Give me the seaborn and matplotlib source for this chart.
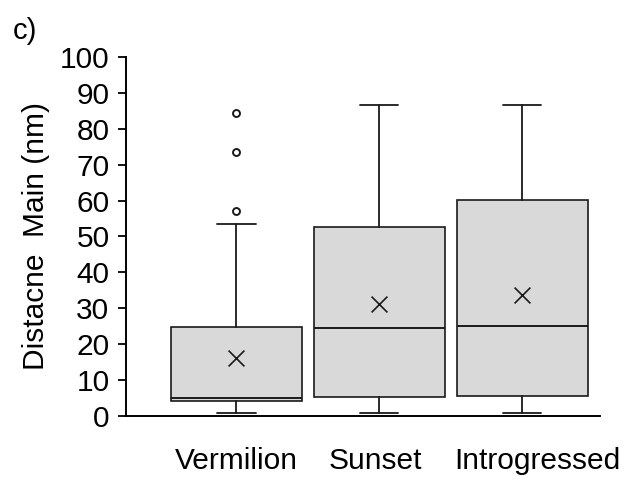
import matplotlib
matplotlib.use("Agg")
import matplotlib.pyplot as plt
import matplotlib.transforms as mtransforms
import seaborn as sns
import pandas as pd

# Summary statistics per group (nm)
groups = ["Vermilion", "Sunset", "Introgressed"]
whisker_low = [0.9, 0.9, 0.9]
q1 = [4.2, 5.4, 5.6]
median = [5.0, 24.6, 25.1]
q3 = [24.7, 52.5, 60.2]
whisker_high = [53.4, 86.7, 86.7]
means = [16.2, 31.1, 33.8]
outliers = [[57.2, 73.5, 84.3], [], []]

sns.set_theme(style="ticks")
plt.rcParams["font.family"] = ["Liberation Sans", "DejaVu Sans"]

fig = plt.figure(figsize=(6.37, 4.82), dpi=100)
ax = fig.add_axes([0.198, 0.137, 0.744, 0.745])

stats = []
for i, g in enumerate(groups):
    stats.append(dict(label=g, whislo=whisker_low[i], q1=q1[i], med=median[i],
                      q3=q3[i], whishi=whisker_high[i], fliers=outliers[i]))

positions = list(range(len(groups)))
ax.bxp(stats, positions=positions, widths=0.915, patch_artist=True,
       showfliers=True, capwidths=0.27,
       boxprops=dict(facecolor="#d9d9d9", edgecolor="#1a1a1a", linewidth=1.2),
       medianprops=dict(color="#1a1a1a", linewidth=1.4),
       whiskerprops=dict(color="#1a1a1a", linewidth=1.3),
       capprops=dict(color="#1a1a1a", linewidth=1.3),
       flierprops=dict(marker="o", markersize=5, markerfacecolor="white",
                       markeredgecolor="#1a1a1a", markeredgewidth=1.4))

mean_df = pd.DataFrame({"x": positions, "mean": means})
sns.scatterplot(data=mean_df, x="x", y="mean", marker="x", s=130,
                color="#1a1a1a", linewidth=1.2, ax=ax, zorder=5, legend=False)

ax.set_xlim(-0.77, 2.545)
ax.set_ylim(0, 100)
ax.set_yticks(range(0, 101, 10))
ax.set_xticks(positions)
ax.set_xticklabels(groups)
ax.tick_params(axis="x", length=0, pad=22, labelsize=21.5, colors="black")
ax.tick_params(axis="y", length=6, width=1.3, pad=6, labelsize=21.5,
               direction="out", colors="black")
ax.set_xlabel("")
ax.set_ylabel("Distacne  Main (nm)", fontsize=21.5, labelpad=7, color="black")
sns.despine(ax=ax)
for side in ("left", "bottom"):
    ax.spines[side].set_linewidth(1.4)
    ax.spines[side].set_color("black")
ax.set_facecolor("white")

# nudge category labels sideways (points)
label_shift = [0, -3, 11]
for lbl, dx in zip(ax.get_xticklabels(), label_shift):
    lbl.set_transform(lbl.get_transform() +
                      mtransforms.ScaledTranslation(dx / 72, 0, fig.dpi_scale_trans))

fig.text(0.02, 0.965, "c)", fontsize=21, color="black", va="top")

fig.savefig("out.png", dpi=100, facecolor="white")
